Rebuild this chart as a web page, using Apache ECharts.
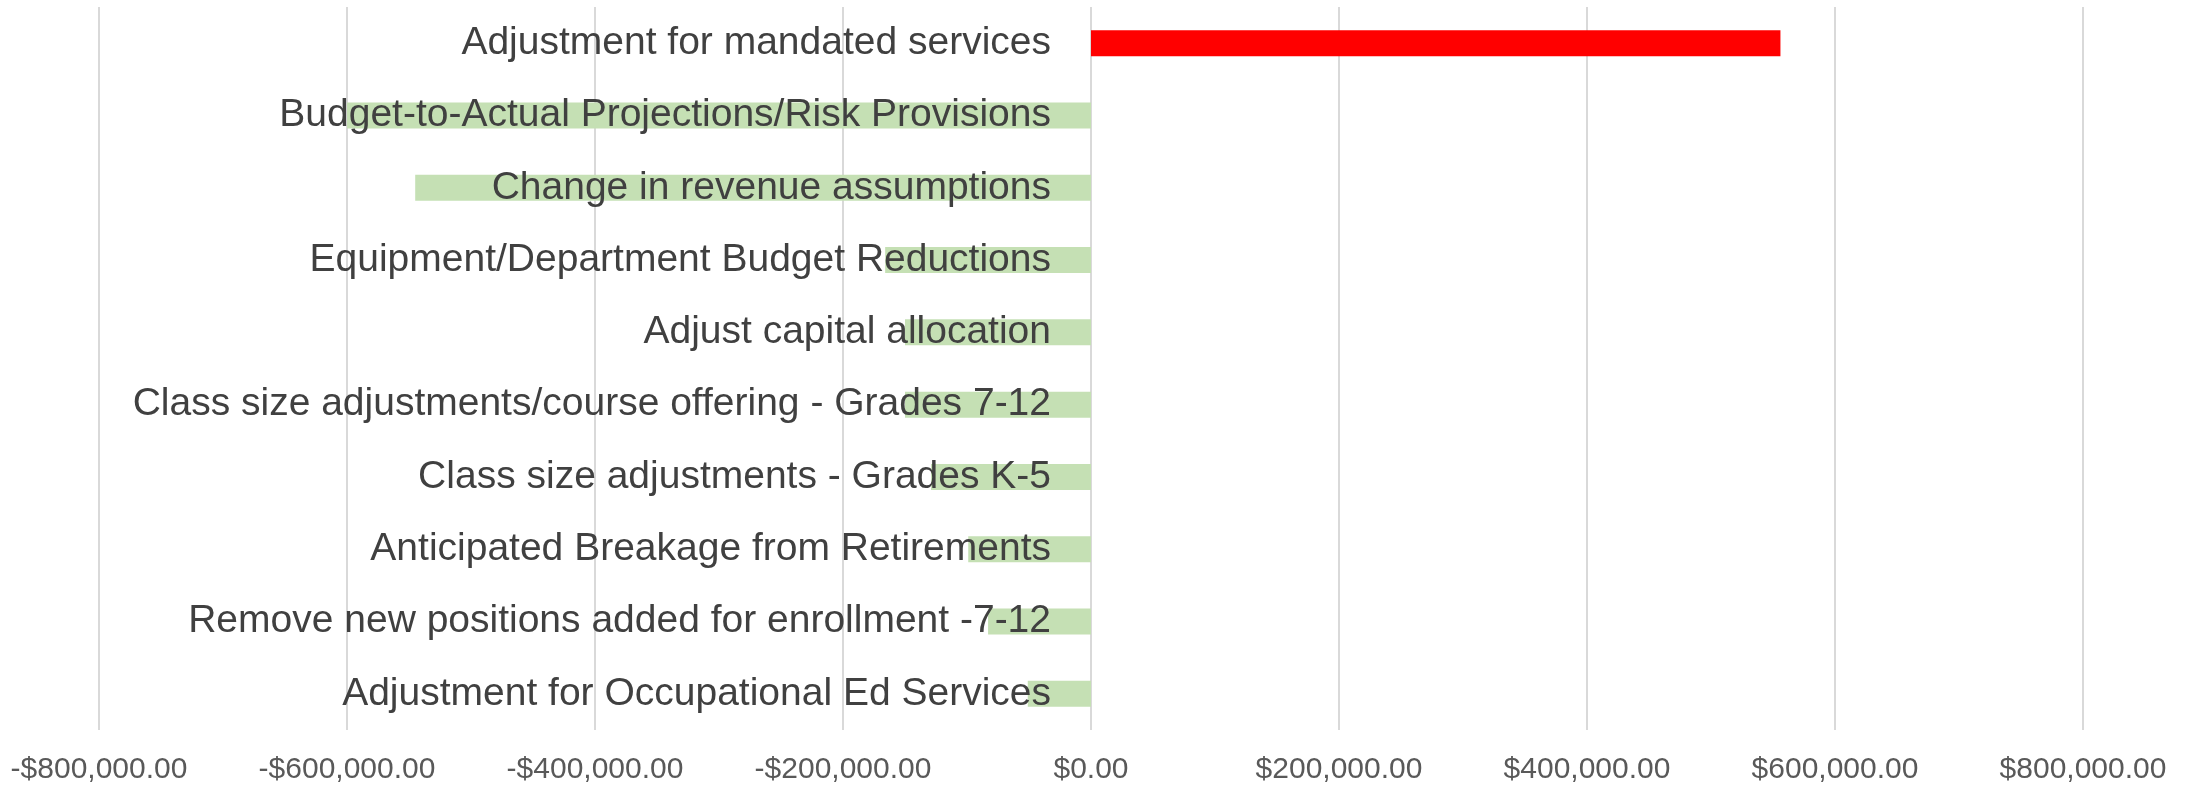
<!DOCTYPE html>
<html>
<head>
<meta charset="utf-8">
<script src="https://cdn.jsdelivr.net/npm/echarts@6/dist/echarts.min.js"></script>
<style>
  html, body { margin: 0; padding: 0; background: #fff; }
  #chart { width: 2190px; height: 787px; }
</style>
</head>
<body>
<div id="chart"></div>
<script>
// categories, top to bottom
const categories = [
  'Adjustment for mandated services',
  'Budget-to-Actual Projections/Risk Provisions',
  'Change in revenue assumptions',
  'Equipment/Department Budget Reductions',
  'Adjust capital allocation',
  'Class size adjustments/course offering - Grades 7-12',
  'Class size adjustments - Grades K-5',
  'Anticipated Breakage from Retirements',
  'Remove new positions added for enrollment -7-12',
  'Adjustment for Occupational Ed Services'
]
const values = [556000, -600000, -545000, -166000, -150000, -150000, -129000, -99000, -83000, -51000]
const axisMin = -800000
const axisMax = 800000
const axisStep = 200000

const fmtMoney = (v) => {
  const s = '$' + Math.abs(v).toLocaleString('en-US', {minimumFractionDigits: 2, maximumFractionDigits: 2})
  return v < 0 ? '-' + s : s
}

// plot area in px, labels of the category axis sit next to the zero line
const gridLeft = 99
const gridRight = 107
const plotWidth = 2190 - gridLeft - gridRight
const zeroOffset = plotWidth * (0 - axisMin) / (axisMax - axisMin)

const chart = echarts.init(document.getElementById('chart'))
chart.setOption({
  animation: false,
  grid: { left: gridLeft, right: gridRight, top: 7, bottom: 57, outerBoundsMode: 'none', containLabel: false },
  xAxis: {
    type: 'value',
    min: axisMin,
    max: axisMax,
    interval: axisStep,
    axisLine: { show: false },
    axisTick: { show: false },
    splitLine: { lineStyle: { color: '#D9D9D9', width: 2 } },
    axisLabel: {
      margin: 25,
      color: '#595959',
      fontFamily: '"Liberation Sans", sans-serif',
      fontSize: 30,
      hideOverlap: false,
      formatter: fmtMoney
    }
  },
  yAxis: {
    type: 'category',
    inverse: true,
    data: categories,
    axisLine: { show: false },
    axisTick: { show: false },
    axisLabel: {
      margin: 40 - zeroOffset,
      color: '#404040',
      fontFamily: '"Liberation Sans", sans-serif',
      fontSize: 39
    },
    z: 10
  },
  series: [{
    type: 'bar',
    barWidth: 26,
    z: 1,
    data: values.map((v, i) => ({
      value: v,
      itemStyle: { color: v > 0 ? '#FF0000' : '#C5E0B4' }
    }))
  }]
})
</script>
</body>
</html>
